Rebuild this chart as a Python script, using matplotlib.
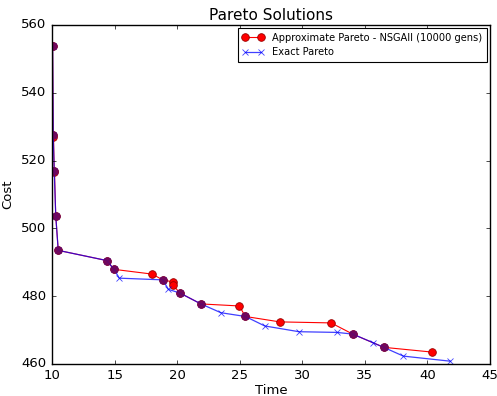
import numpy as np
import matplotlib
matplotlib.use('Agg')
from matplotlib import pyplot as plt

plt.style.use('classic')

# Approximate Pareto front (NSGAII, 10000 generations)
t_approx = [10.05, 10.1, 10.12, 10.18, 10.2, 10.3, 10.5, 14.37, 14.96, 18.0, 18.85,
            19.65, 19.65, 20.23, 21.9, 24.97, 25.45, 28.2, 32.3, 34.03, 36.5, 40.35]
c_approx = [553.7, 527.4, 527.0, 517.0, 516.6, 503.7, 493.5, 490.5, 487.9, 486.5, 484.8,
            484.2, 483.3, 480.9, 477.7, 477.1, 474.0, 472.4, 472.1, 468.8, 464.9, 463.5]

# Exact Pareto front
t_exact = [10.05, 10.1, 10.18, 10.3, 10.5, 14.37, 14.96, 15.38, 18.85, 19.3, 20.23,
           21.9, 23.5, 25.45, 27.0, 29.74, 32.76, 34.03, 35.63, 36.5, 38.08, 41.84]
c_exact = [553.7, 527.4, 517.0, 503.7, 493.5, 490.5, 487.9, 485.3, 484.8, 482.0, 480.9,
           477.7, 475.1, 474.0, 471.2, 469.5, 469.3, 468.8, 466.3, 464.9, 462.3, 460.8]

fig = plt.figure(figsize=(4.97, 3.96), dpi=100, facecolor='white')
ax = fig.add_axes([0.1046, 0.081, 0.8814, 0.856])

ax.plot(t_approx, c_approx, color='r', marker='o', markersize=5.5, markeredgecolor='#990000',
        markeredgewidth=0.6, linewidth=0.8, label='Approximate Pareto - NSGAII (10000 gens)')
ax.plot(t_exact, c_exact, color='b', marker='x', markersize=5, markeredgewidth=0.6,
        linewidth=0.9, alpha=0.75, label='Exact Pareto')

# points found by both: shown purple
shared = [(t, c) for t, c in zip(t_exact, c_exact) if (t, c) in set(zip(t_approx, c_approx))]
st, sc = zip(*shared)
ax.plot(st, sc, linestyle='none', marker='o', markersize=5.5, color='#6a0860',
        markeredgecolor='#6a0860', alpha=0.9)

ax.set_xlim(10, 45)
ax.set_ylim(460, 560)
ax.set_xticks(np.arange(10, 46, 5))
ax.set_yticks(np.arange(460, 561, 20))
ax.tick_params(labelsize=9.5, length=3)
ax.set_xlabel('Time', fontsize=9.5, labelpad=1)
ax.set_ylabel('Cost', fontsize=9.5)
ax.set_title('Pareto Solutions', fontsize=11, y=0.995)
leg = ax.legend(loc='upper right', fontsize=7.1, numpoints=2, borderaxespad=0.35,
                handlelength=2.2, labelspacing=0.45, borderpad=0.45)
leg.get_frame().set_linewidth(0.8)

fig.savefig('out.png', dpi=100, facecolor='white')
